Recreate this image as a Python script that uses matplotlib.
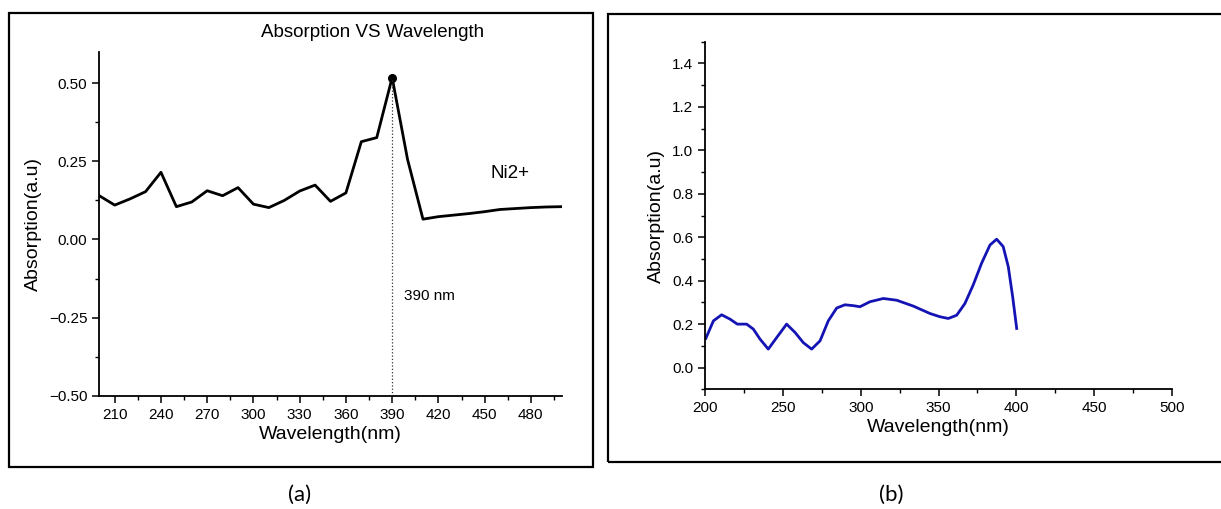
import matplotlib
matplotlib.use("Agg")
import matplotlib.pyplot as plt
from matplotlib.patches import Rectangle
from matplotlib.ticker import MultipleLocator

plt.rcParams['font.family'] = ['Liberation Sans', 'DejaVu Sans']

# (a) Ni2+ absorption, sampled every 10 nm
wl_a = [200, 210, 220, 230, 240, 250, 260, 270, 280, 290, 300,
        310, 320, 330, 340, 350, 360, 370, 380, 390, 400,
        410, 420, 430, 440, 450, 460, 470, 480, 490, 500]
abs_a = [0.140, 0.110, 0.130, 0.153, 0.215, 0.105, 0.120, 0.156, 0.140, 0.166, 0.113,
         0.102, 0.125, 0.155, 0.174, 0.122, 0.149, 0.313, 0.326, 0.518, 0.256,
         0.065, 0.073, 0.078, 0.083, 0.089, 0.096, 0.099, 0.102, 0.104, 0.105]
peak_wl = 390
peak_abs = 0.518

# (b) measured spectrum
wl_b = [200.4, 205.2, 210.5, 215.9, 220.6, 226.6, 230.9, 235.2, 240.5, 245.9,
        252.3, 257.7, 263.0, 268.4, 273.8, 279.1, 284.5, 289.8, 295.2, 299.5,
        305.9, 314.5, 323.1, 333.8, 344.5, 350.9, 356.3, 361.7, 367.0, 372.3,
        377.7, 383.1, 387.4, 391.6, 394.9, 397.7, 400.3]
abs_b = [0.135, 0.215, 0.243, 0.223, 0.200, 0.200, 0.177, 0.131, 0.085, 0.138,
         0.200, 0.162, 0.115, 0.085, 0.123, 0.215, 0.274, 0.289, 0.285, 0.280,
         0.303, 0.318, 0.310, 0.283, 0.249, 0.234, 0.226, 0.241, 0.295, 0.380,
         0.480, 0.564, 0.591, 0.557, 0.464, 0.326, 0.180]

W, H = 1221, 509
fig = plt.figure(figsize=(W / 100, H / 100), dpi=100)


def px_axes(left, top, right, bottom):
    return fig.add_axes([left / W, 1 - bottom / H, (right - left) / W, (bottom - top) / H])


def origin_style(ax):
    for side in ('top', 'right'):
        ax.spines[side].set_visible(False)
    for side in ('left', 'bottom'):
        ax.spines[side].set_linewidth(1.3)
    ax.tick_params(which='major', direction='out', length=5, width=1.1, labelsize=11)
    ax.tick_params(which='minor', direction='out', length=3, width=1.0)


# outer boxes round each panel
fig.patches.append(Rectangle((9 / W, 1 - 467 / H), 584 / W, 454 / H, transform=fig.transFigure,
                             fill=False, edgecolor='black', linewidth=1.6))
fig.patches.append(Rectangle((608 / W, 1 - 462 / H), 620 / W, 448 / H, transform=fig.transFigure,
                             fill=False, edgecolor='black', linewidth=1.6, clip_on=False))

# panel (a)
ax1 = px_axes(99.3, 52, 561.7, 395.7)
origin_style(ax1)
ax1.plot(wl_a, abs_a, color='black', linewidth=2.0)
ax1.plot([peak_wl], [peak_abs], 'o', color='black', markersize=5.5)
ax1.plot([peak_wl, peak_wl], [-0.5, peak_abs], color='#333333', linestyle=':', linewidth=0.9)
ax1.set_xlim(200, 500)
ax1.set_ylim(-0.5, 0.6)
ax1.xaxis.set_minor_locator(MultipleLocator(15))
ax1.set_xticks(range(210, 481, 30))
ax1.set_yticks([-0.5, -0.25, 0.0, 0.25, 0.5])
ax1.yaxis.set_minor_locator(MultipleLocator(0.125))
ax1.set_yticklabels(['\u22120.50', '\u22120.25', '0.00', '0.25', '0.50'])
ax1.set_xlabel('Wavelength(nm)', fontsize=14, labelpad=3)
ax1.set_ylabel('Absorption(a.u)', fontsize=14, labelpad=5)
ax1.text(377, 0.661, 'Absorption VS Wavelength', fontsize=13.5, ha='center', va='center',
         clip_on=False)
ax1.text(454, 0.212, 'Ni2+', fontsize=13.5, ha='left', va='center')
ax1.text(398, -0.18, '390 nm', fontsize=11, ha='left', va='center')

# panel (b)
ax2 = px_axes(705.3, 41.7, 1171.7, 389.3)
origin_style(ax2)
ax2.plot(wl_b, abs_b, color='#1414b4', linewidth=2.0)
ax2.set_xlim(200, 500)
ax2.set_ylim(-0.1, 1.5)
ax2.xaxis.set_major_locator(MultipleLocator(50))
ax2.xaxis.set_minor_locator(MultipleLocator(25))
ax2.set_yticks([0.0, 0.2, 0.4, 0.6, 0.8, 1.0, 1.2, 1.4])
ax2.yaxis.set_minor_locator(MultipleLocator(0.1))
ax2.set_xlabel('Wavelength(nm)', fontsize=14, labelpad=3)
ax2.set_ylabel('Absorption(a.u)', fontsize=14, labelpad=5)

fig.text(300 / W, 1 - 495 / H, '(a)', fontsize=16, ha='center', va='center', family='Lato')
fig.text(891 / W, 1 - 495 / H, '(b)', fontsize=16, ha='center', va='center', family='Lato')

fig.savefig('out.png', dpi=100)
